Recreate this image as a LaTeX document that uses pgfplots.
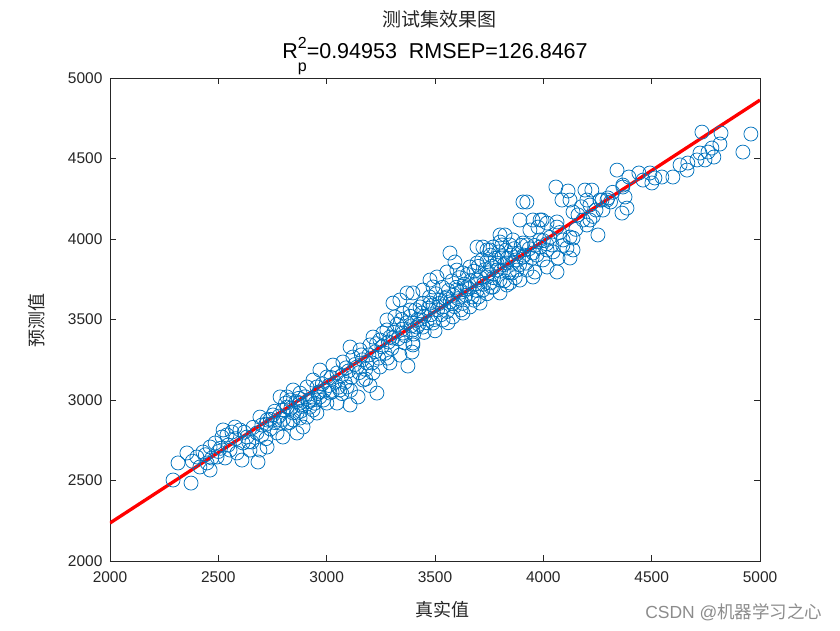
\documentclass[border=0pt]{standalone}
\usepackage{pgfplots}
\pgfplotsset{compat=1.18}
\usepackage{fontspec}
\setmainfont{Liberation Sans}
\newfontfamily\cjk{Noto Sans CJK SC}
\definecolor{mblue}{rgb}{0,0.447,0.741}
\definecolor{axgray}{rgb}{0.15,0.15,0.15}
\begin{document}
\begin{tikzpicture}[x=1pt,y=1pt]
\begin{axis}[
  at={(0,0)}, anchor=south west,
  scale only axis, width=650pt, height=483pt,
  xmin=2000, xmax=5000, ymin=2000, ymax=5000,
  xtick={2000,2500,3000,3500,4000,4500,5000},
  ytick={2000,2500,3000,3500,4000,4500,5000},
  tick align=inside, xtick pos=both, ytick pos=both,
  xticklabel pos=bottom, yticklabel pos=left,
  major tick length=6pt,
  axis line style={draw=axgray, line width=0.6pt},
  every tick/.append style={draw=axgray, line width=0.6pt},
  ticklabel style={font=\fontsize{15.5}{17}\selectfont, text=axgray},
  /pgf/number format/assume math mode=true,
  /pgf/number format/1000 sep={},
  scaled ticks=false,
  xticklabel style={yshift=-7pt},
  yticklabel style={xshift=-4pt},
]
\addplot[only marks, mark=o, mark size=7pt, mblue, mark options={line width=0.75pt}] table[row sep=\\] {
x y\\
2291 2503\\ 2374 2484\\ 2314 2609\\ 2355 2671\\ 2609 2627\\ 2683 2615\\ 2401 2646\\ 2429 2677\\ 2462 2708\\ 2448 2609\\
2462 2565\\ 2415 2584\\ 2494 2646\\ 2485 2733\\ 2517 2770\\ 2540 2783\\ 2577 2832\\ 2600 2814\\ 2632 2770\\ 2614 2733\\
2655 2739\\ 2678 2795\\ 2701 2845\\ 2725 2876\\ 2692 2894\\ 2752 2907\\ 2785 2857\\ 2771 2795\\ 2798 2770\\ 2725 2708\\
2692 2689\\ 2646 2689\\ 2586 2671\\ 2554 2689\\ 2531 2640\\ 2817 2956\\ 2845 2919\\ 2877 2888\\ 2891 2832\\ 2863 2795\\
2923 2956\\ 2955 2919\\ 2522 2814\\ 2563 2801\\
2470 2640\\ 2510 2700\\ 2545 2720\\ 2580 2760\\ 2620 2800\\ 2660 2830\\ 2700 2780\\ 2740 2820\\ 2760 2860\\ 2800 2880\\
2830 2860\\ 2720 2760\\ 2640 2740\\ 2500 2680\\ 2440 2660\\ 2380 2620\\
3232 3043\\ 3108 2969\\ 3145 3019\\ 3375 3211\\ 3338 3279\\ 3394 3298\\ 3398 3342\\ 3361 3354\\ 3306 3385\\ 3260 3416\\
3214 3391\\ 3200 3342\\ 3154 3311\\ 3108 3329\\ 3121 3267\\ 3075 3236\\ 3029 3217\\ 3048 3168\\ 3001 3143\\ 2969 3186\\
2937 3124\\ 2955 3081\\ 2909 3081\\ 2877 3043\\ 2845 3062\\ 2817 3019\\ 2785 3019\\ 2831 3000\\ 2877 2981\\ 2923 3000\\
2969 3019\\ 3015 3043\\ 3061 3062\\ 3094 3081\\ 3168 3124\\ 3214 3168\\ 3246 3205\\ 3292 3230\\ 3186 3230\\ 3140 3205\\
2798 2938\\ 2863 2919\\ 2909 2894\\ 2845 2876\\ 2817 2857\\ 2937 2938\\ 3001 2981\\ 3048 2981\\ 3417 3453\\
3569 3913\\ 3592 3857\\ 3694 3950\\ 3721 3950\\ 3800 4025\\ 3809 3963\\ 3754 3932\\ 3846 3963\\ 3694 3851\\ 3661 3826\\
3629 3789\\ 3601 3807\\ 3555 3795\\ 3509 3764\\ 3477 3745\\ 3491 3702\\ 3444 3683\\ 3398 3665\\ 3371 3665\\ 3338 3621\\
3306 3602\\ 3278 3497\\ 3315 3516\\ 3352 3540\\ 3385 3559\\ 3431 3578\\ 3477 3602\\ 3523 3621\\ 3555 3640\\ 3601 3683\\
3648 3702\\ 3694 3745\\ 3740 3764\\ 3786 3807\\ 3832 3851\\ 3708 3602\\ 3661 3578\\ 3629 3540\\ 3583 3516\\ 3537 3497\\
3491 3478\\ 3444 3453\\ 3398 3435\\ 3352 3416\\ 3292 3391\\ 3246 3373\\ 3721 3683\\ 3768 3702\\ 3800 3665\\ 3846 3727\\
3278 3435\\ 3398 3354\\
3906 4230\\ 3924 4230\\ 3892 4118\\ 3952 4118\\ 3994 4118\\ 4017 4099\\ 4063 4106\\ 3975 4074\\ 3938 4056\\ 3860 3994\\
3823 4025\\ 3800 3981\\ 3768 3950\\ 3740 3932\\ 3906 3975\\ 3924 3963\\ 3984 3994\\ 4040 3963\\ 4017 3932\\ 3952 3913\\
3906 3888\\ 4109 3944\\ 4123 3882\\ 4137 3932\\ 4068 3882\\ 4063 3795\\ 4017 3826\\ 3961 3795\\ 3924 3807\\ 3878 3807\\
3855 3789\\ 3800 3745\\ 3754 3727\\ 3832 3714\\ 3892 3745\\ 3952 3764\\ 3998 3870\\
4058 4323\\ 4114 4298\\ 4192 4304\\ 4086 4242\\ 4123 4242\\ 4137 4168\\ 4201 4242\\ 4215 4211\\ 4183 4118\\ 4201 4087\\
4137 4006\\ 4252 4025\\ 4271 4242\\ 4298 4255\\ 4275 4180\\ 4367 4323\\ 4377 4261\\ 4386 4192\\ 4363 4161\\ 3985 4118\\
4123 4012\\ 4091 3994\\ 4063 4074\\ 4224 4304\\ 4340 4428\\ 4395 4385\\ 4367 4335\\ 4243 4180\\ 4261 4242\\ 4294 4242\\
4215 4118\\ 4441 4410\\ 4460 4366\\ 4492 4410\\ 4501 4348\\ 4515 4379\\ 4547 4385\\ 4598 4385\\ 4663 4428\\ 4631 4460\\
4667 4472\\ 4709 4491\\ 4746 4491\\ 4723 4534\\ 4787 4509\\ 4760 4540\\ 4778 4565\\ 4815 4590\\ 4921 4540\\ 4732 4664\\
4820 4658\\ 4958 4652\\
3310 3420\\ 3325 3470\\ 3330 3380\\ 3345 3500\\ 3350 3440\\ 3362 3400\\ 3370 3480\\ 3385 3520\\ 3390 3460\\ 3402 3410\\
3410 3560\\ 3420 3500\\ 3425 3470\\ 3438 3540\\ 3445 3600\\ 3450 3520\\ 3462 3480\\ 3470 3570\\ 3475 3640\\ 3482 3530\\
3490 3590\\ 3498 3500\\ 3505 3660\\ 3512 3560\\ 3520 3600\\ 3528 3530\\ 3535 3700\\ 3540 3580\\ 3548 3630\\ 3556 3550\\
3562 3680\\ 3570 3610\\ 3578 3740\\ 3585 3650\\ 3590 3580\\ 3598 3700\\ 3606 3630\\ 3612 3760\\ 3620 3670\\ 3628 3600\\
3635 3720\\ 3642 3650\\ 3650 3780\\ 3656 3690\\ 3664 3740\\ 3672 3640\\ 3680 3800\\ 3686 3720\\ 3694 3680\\ 3700 3830\\
3710 3760\\ 3716 3870\\ 3724 3720\\ 3732 3810\\ 3740 3860\\ 3748 3790\\ 3756 3900\\ 3762 3830\\ 3770 3760\\ 3778 3880\\
3786 3850\\ 3794 3920\\ 3802 3800\\ 3810 3890\\ 3818 3840\\ 3826 3930\\ 3834 3880\\ 3842 3790\\ 3850 3900\\ 3858 3850\\
3866 3940\\ 3874 3870\\ 3882 3910\\ 3890 3840\\ 3898 3960\\ 3910 3900\\ 3920 3850\\ 3935 3940\\ 3948 3880\\ 3960 3960\\
3970 3900\\ 3985 3950\\ 4000 3990\\ 4015 3970\\ 4030 4010\\ 4045 3920\\ 4075 4040\\ 4090 3960\\ 4150 4060\\ 4160 4150\\
4175 4200\\ 4230 4140\\ 4310 4230\\ 4320 4290\\
3010 3090\\ 3025 3050\\ 3040 3110\\ 3055 3080\\ 3070 3150\\ 3085 3110\\ 3100 3180\\ 3115 3140\\ 3130 3220\\ 3150 3170\\
3165 3250\\ 3180 3190\\ 3195 3280\\ 3210 3230\\ 3225 3300\\ 3240 3260\\ 3255 3330\\ 3270 3290\\ 3285 3360\\ 3300 3320\\
3230 3350\\ 3160 3280\\ 3090 3200\\ 3020 3140\\ 2990 3060\\ 2965 3050\\ 2940 3010\\ 2985 3000\\ 3070 3040\\ 3110 3060\\
3180 3130\\ 3280 3260\\ 3200 3090\\
2810 2980\\ 2835 2950\\ 2860 2990\\ 2885 2960\\ 2900 3020\\ 2915 2990\\ 2945 2980\\ 2960 3040\\ 2980 3100\\ 2870 3010\\
2760 2930\\ 2740 2880\\ 2780 2900\\ 2720 2850\\ 2880 2930\\
3560 3480\\ 3620 3560\\ 3680 3620\\ 3740 3660\\ 3760 3700\\ 3820 3740\\ 3870 3760\\ 3700 3640\\ 3500 3430\\ 3450 3420\\
3580 3600\\
};
\addplot[red, line width=3.3pt] coordinates {(2000,2236) (5000,4863)};
\end{axis}
\node[font=\cjk\fontsize{19}{22}\selectfont, text=axgray, anchor=base] at (329,534) {测试集效果图};
\node[font=\fontsize{21.5}{24}\selectfont, text=black, anchor=base] at (325,502)
  {R\rlap{\raisebox{0.5em}{\fontsize{16}{17}\selectfont 2}}\raisebox{-0.6em}{\fontsize{16}{17}\selectfont p}=0.94953\ \ RMSEP=126.8467};
\node[font=\cjk\fontsize{18}{20}\selectfont, text=axgray] at (332,-49) {真实值};
\node[font=\cjk\fontsize{18}{20}\selectfont, text=axgray, rotate=90] at (-73,241) {预测值};
\node[font=\fontsize{17.5}{20}\selectfont, text=black!45, anchor=east] at (716,-51) {CSDN @{\cjk 机器学习之心}};
\pgfresetboundingbox
\path[use as bounding box] (-110,-69) rectangle (730,561);
\end{tikzpicture}
\end{document}
